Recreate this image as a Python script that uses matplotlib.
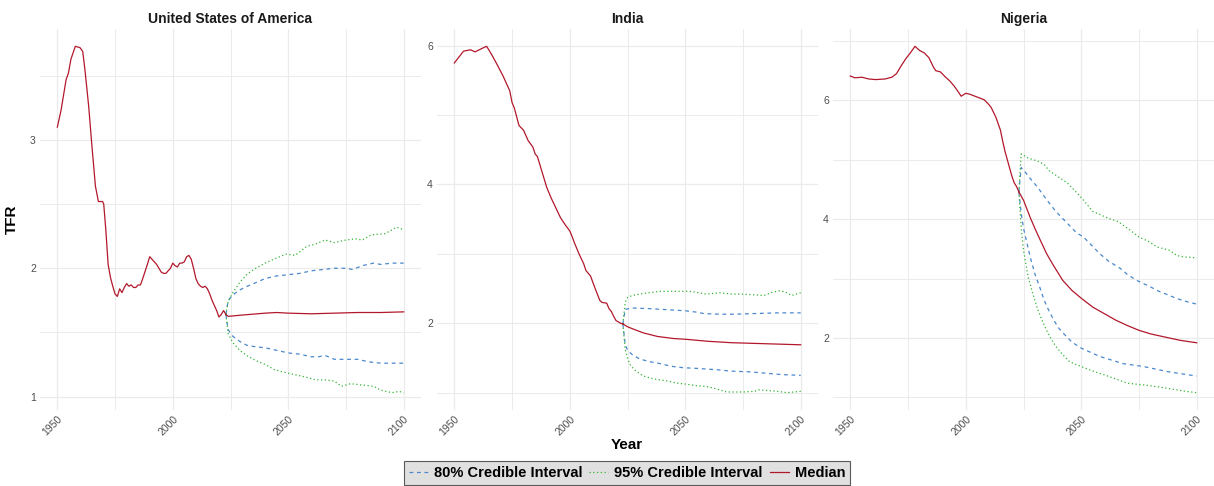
import matplotlib
matplotlib.use("Agg")
import matplotlib.pyplot as plt

plt.rcParams['font.family'] = ['Liberation Sans', 'DejaVu Sans']

# ---- data (TFR) ----
countries = ["United States of America", "India", "Nigeria"]

# United States
usa_hist_years = [1950, 1951.6, 1952.7, 1953.8, 1954.8, 1955.9, 1957.8, 1959.8, 1961, 1962, 1963.6, 1965,
                  1966.5, 1967.8, 1969.6, 1970.1, 1971, 1972, 1973, 1974, 1975, 1976, 1977, 1978, 1979,
                  1980, 1981, 1982, 1983, 1984, 1985, 1986, 1987, 1989, 1990, 1991, 1992, 1993, 1994,
                  1995, 1996, 1997, 1998, 1999, 2000, 2001, 2002, 2003, 2004, 2005, 2006, 2007, 2008,
                  2009, 2010, 2011, 2012, 2013, 2014, 2015, 2016, 2017, 2018, 2019, 2020, 2021, 2022, 2023]
usa_hist = [3.10, 3.23, 3.35, 3.47, 3.52, 3.63, 3.73, 3.72, 3.69, 3.54, 3.26, 2.95,
            2.64, 2.52, 2.52, 2.50, 2.30, 2.03, 1.93, 1.86, 1.80, 1.78, 1.84, 1.81, 1.85,
            1.88, 1.86, 1.87, 1.85, 1.85, 1.87, 1.87, 1.92, 2.03, 2.09, 2.07, 2.05, 2.03, 2.00,
            1.97, 1.96, 1.96, 1.98, 2.00, 2.04, 2.02, 2.01, 2.04, 2.04, 2.05, 2.09, 2.10, 2.07,
            2.00, 1.92, 1.88, 1.86, 1.85, 1.86, 1.84, 1.80, 1.75, 1.71, 1.67, 1.62, 1.64, 1.67, 1.64]
usa_med_years = [2023, 2024, 2030, 2040, 2045, 2050, 2060, 2070, 2080, 2090, 2100]
usa_med = [1.64, 1.625, 1.635, 1.65, 1.655, 1.65, 1.645, 1.65, 1.655, 1.655, 1.66]
usa_u80_years = [2023, 2024, 2026, 2028, 2031, 2035, 2040, 2045, 2050, 2055, 2060, 2065, 2070, 2075,
                 2078, 2082, 2087, 2090, 2095, 2100]
usa_u80 = [1.64, 1.75, 1.79, 1.82, 1.85, 1.88, 1.92, 1.94, 1.95, 1.96, 1.98, 1.99, 2.00, 2.00,
           1.99, 2.02, 2.04, 2.03, 2.04, 2.04]
usa_l80_years = [2023, 2024, 2026, 2029, 2032, 2035, 2040, 2045, 2050, 2055, 2060, 2063, 2066, 2070,
                 2075, 2080, 2085, 2090, 2095, 2100]
usa_l80 = [1.64, 1.52, 1.47, 1.43, 1.40, 1.39, 1.38, 1.36, 1.34, 1.33, 1.31, 1.31, 1.32, 1.29,
           1.29, 1.29, 1.27, 1.26, 1.26, 1.26]
usa_u95_years = [2023, 2024, 2026, 2029, 2032, 2035, 2040, 2045, 2049, 2053, 2058, 2062, 2066, 2070,
                 2075, 2079, 2082, 2086, 2092, 2095, 2097, 2100]
usa_u95 = [1.64, 1.74, 1.81, 1.89, 1.95, 1.99, 2.04, 2.08, 2.11, 2.10, 2.17, 2.19, 2.22, 2.20,
           2.22, 2.23, 2.22, 2.26, 2.27, 2.30, 2.32, 2.30]
usa_l95_years = [2023, 2024, 2026, 2029, 2032, 2036, 2040, 2044, 2048, 2053, 2058, 2062, 2066, 2070,
                 2073, 2077, 2082, 2087, 2090, 2095, 2098, 2100]
usa_l95 = [1.64, 1.49, 1.42, 1.36, 1.32, 1.28, 1.25, 1.21, 1.19, 1.17, 1.15, 1.13, 1.13, 1.12,
           1.08, 1.10, 1.09, 1.08, 1.05, 1.03, 1.04, 1.03]

# India
ind_hist_years = [1950, 1954, 1957, 1959, 1962, 1964, 1966, 1968, 1971, 1974, 1975, 1976, 1978, 1980,
                  1982, 1984, 1985, 1986, 1988, 1990, 1992, 1994, 1996, 1998, 2000, 2001, 2002, 2004,
                  2006, 2007, 2009, 2011, 2013, 2014, 2016, 2017, 2018, 2019, 2020, 2021, 2022, 2023]
ind_hist = [5.75, 5.92, 5.94, 5.91, 5.96, 5.99, 5.88, 5.76, 5.57, 5.35, 5.18, 5.10, 4.85, 4.78,
            4.63, 4.54, 4.44, 4.40, 4.18, 3.96, 3.80, 3.66, 3.52, 3.42, 3.33, 3.25, 3.16, 3.00,
            2.86, 2.76, 2.68, 2.50, 2.33, 2.30, 2.29, 2.21, 2.17, 2.10, 2.04, 2.02, 2.00, 1.99]
ind_med_years = [2023, 2025, 2028, 2032, 2038, 2045, 2050, 2060, 2070, 2080, 2090, 2100]
ind_med = [1.99, 1.95, 1.91, 1.86, 1.81, 1.78, 1.77, 1.74, 1.72, 1.71, 1.70, 1.69]
ind_u80_years = [2023, 2024, 2027, 2035, 2045, 2050, 2055, 2058, 2065, 2071, 2080, 2090, 2100]
ind_u80 = [1.99, 2.20, 2.22, 2.21, 2.19, 2.18, 2.16, 2.14, 2.13, 2.13, 2.14, 2.15, 2.15]
ind_l80_years = [2023, 2024, 2025, 2027, 2030, 2034, 2039, 2044, 2049, 2055, 2064, 2070, 2078, 2085,
                 2092, 2100]
ind_l80 = [1.99, 1.70, 1.61, 1.55, 1.49, 1.45, 1.42, 1.38, 1.36, 1.35, 1.33, 1.31, 1.30, 1.28,
           1.26, 1.25]
ind_u95_years = [2023, 2024, 2025, 2027, 2032, 2039, 2045, 2052, 2056, 2059, 2065, 2070, 2075, 2080,
                 2084, 2088, 2091, 2094, 2096, 2100]
ind_u95 = [1.99, 2.30, 2.37, 2.40, 2.43, 2.46, 2.46, 2.46, 2.44, 2.42, 2.44, 2.42, 2.42, 2.41,
           2.40, 2.45, 2.47, 2.44, 2.40, 2.44]
ind_l95_years = [2023, 2024, 2025, 2026, 2028, 2030, 2032, 2036, 2042, 2046, 2051, 2055, 2059, 2063,
                 2068, 2075, 2080, 2082, 2086, 2090, 2094, 2100]
ind_l95 = [1.99, 1.62, 1.50, 1.41, 1.33, 1.28, 1.24, 1.20, 1.17, 1.14, 1.12, 1.10, 1.09, 1.06,
           1.01, 1.01, 1.02, 1.04, 1.03, 1.02, 1.00, 1.02]

# Nigeria
nga_hist_years = [1950, 1952, 1955, 1958, 1961, 1965, 1968, 1970, 1972, 1974, 1976, 1978, 1980, 1982,
                  1984, 1986, 1987, 1989, 1991, 1993, 1995, 1997, 1998, 2000, 2002, 2004, 2006, 2008,
                  2010, 2011, 2013, 2014, 2015, 2016, 2017, 2018, 2019, 2020, 2021, 2022, 2023]
nga_hist = [6.41, 6.38, 6.39, 6.36, 6.35, 6.36, 6.39, 6.45, 6.58, 6.70, 6.80, 6.91, 6.84, 6.80,
            6.72, 6.56, 6.50, 6.48, 6.40, 6.33, 6.24, 6.13, 6.07, 6.12, 6.10, 6.07, 6.04, 6.01,
            5.93, 5.88, 5.72, 5.61, 5.50, 5.31, 5.14, 5.00, 4.86, 4.72, 4.61, 4.55, 4.46]
nga_med_years = [2023, 2025, 2028, 2030, 2032, 2035, 2038, 2042, 2046, 2050, 2055, 2060, 2065, 2070,
                 2075, 2080, 2087, 2093, 2100]
nga_med = [4.46, 4.32, 4.02, 3.84, 3.67, 3.42, 3.22, 2.97, 2.80, 2.67, 2.52, 2.41, 2.30, 2.21,
           2.13, 2.07, 2.01, 1.96, 1.92]
nga_u80_years = [2023, 2024, 2026, 2028, 2030, 2032, 2035, 2039, 2044, 2048, 2051, 2055, 2058, 2062,
                 2067, 2070, 2074, 2079, 2084, 2088, 2091, 2095, 2100]
nga_u80 = [4.46, 4.87, 4.78, 4.68, 4.59, 4.49, 4.33, 4.13, 3.93, 3.77, 3.70, 3.54, 3.42, 3.29,
           3.17, 3.07, 2.97, 2.88, 2.78, 2.72, 2.67, 2.62, 2.57]
nga_l80_years = [2023, 2024, 2025, 2026, 2028, 2030, 2032, 2034, 2036, 2038, 2040, 2042, 2046, 2050,
                 2058, 2068, 2077, 2088, 2100]
nga_l80 = [4.46, 4.10, 3.85, 3.68, 3.35, 3.07, 2.86, 2.63, 2.46, 2.31, 2.18, 2.09, 1.93, 1.83,
           1.69, 1.57, 1.52, 1.43, 1.36]
nga_u95_years = [2023, 2024, 2027, 2031, 2034, 2036, 2039, 2044, 2048, 2051, 2055, 2058, 2062, 2066,
                 2071, 2075, 2079, 2083, 2088, 2091, 2093, 2100]
nga_u95 = [4.46, 5.10, 5.03, 4.98, 4.92, 4.82, 4.74, 4.61, 4.45, 4.32, 4.13, 4.08, 4.01, 3.96,
           3.82, 3.70, 3.63, 3.53, 3.48, 3.40, 3.37, 3.35]
nga_l95_years = [2023, 2024, 2025, 2027, 2029, 2031, 2033, 2035, 2037, 2039, 2042, 2045, 2048, 2052,
                 2056, 2060, 2065, 2070, 2077, 2083, 2088, 2094, 2100]
nga_l95 = [4.46, 3.85, 3.48, 3.03, 2.75, 2.50, 2.30, 2.13, 1.98, 1.86, 1.72, 1.60, 1.55, 1.49,
           1.43, 1.38, 1.31, 1.24, 1.21, 1.18, 1.15, 1.11, 1.08]

year_ticks = [1950, 2000, 2050, 2100]
year_minor = [1975, 2025, 2075]
y_ticks = [[1, 2, 3], [2, 4, 6], [2, 4, 6]]
y_minor = [[1.5, 2.5, 3.5], [1, 3, 5], [1, 3, 5, 7]]

MED_COL = '#B2182B'
C80_COL = '#4A88CC'
C95_COL = '#33B533'
GRID = '#EBEBEB'

panels = [
    (usa_hist_years, usa_hist, usa_med_years, usa_med, usa_u80_years, usa_u80, usa_l80_years, usa_l80,
     usa_u95_years, usa_u95, usa_l95_years, usa_l95),
    (ind_hist_years, ind_hist, ind_med_years, ind_med, ind_u80_years, ind_u80, ind_l80_years, ind_l80,
     ind_u95_years, ind_u95, ind_l95_years, ind_l95),
    (nga_hist_years, nga_hist, nga_med_years, nga_med, nga_u80_years, nga_u80, nga_l80_years, nga_l80,
     nga_u95_years, nga_u95, nga_l95_years, nga_l95),
]

fig = plt.figure(figsize=(12.14, 4.86), dpi=100)
W = 1214.0
H = 486.0
lefts = [40, 437, 833]
ax_w = 381 / W
ax_b = 1 - 410 / H
ax_h = (410 - 29) / H

lw = 0.9
for i, (name, d) in enumerate(zip(countries, panels)):
    hy, hv, my, mv, u8y, u8v, l8y, l8v, u9y, u9v, l9y, l9v = d
    ax = fig.add_axes([lefts[i] / W, ax_b, ax_w, ax_h])

    ax.plot(u8y, u8v, color=C80_COL, lw=lw, ls=(0, (3, 3)), label='80% Credible Interval')
    ax.plot(l8y, l8v, color=C80_COL, lw=lw, ls=(0, (3, 3)))
    ax.plot(u9y, u9v, color=C95_COL, lw=lw, ls=(0, (1, 2)), label='95% Credible Interval')
    ax.plot(l9y, l9v, color=C95_COL, lw=lw, ls=(0, (1, 2)))
    ax.plot(hy, hv, color=MED_COL, lw=lw, label='Median')
    ax.plot(my, mv, color=MED_COL, lw=lw)

    ax.set_xticks(year_ticks)
    ax.set_xticks(year_minor, minor=True)
    ax.set_yticks(y_ticks[i])
    ax.set_yticks(y_minor[i], minor=True)
    ax.grid(True, which='major', color=GRID, lw=0.9)
    ax.grid(True, which='minor', color=GRID, lw=0.7)
    ax.set_axisbelow(True)
    for s in ax.spines.values():
        s.set_visible(False)
    ax.tick_params(which='both', length=0, labelsize=7.5, labelcolor='#4D4D4D', pad=3)
    for lab in ax.get_xticklabels():
        lab.set_rotation(45)
        lab.set_ha('right')
        lab.set_va('top')
        lab.set_rotation_mode('anchor')
    ax.set_title(name, fontsize=10, fontweight='bold', color='#1A1A1A', pad=4)

    if i == 0:
        ax.set_ylabel('TFR', fontsize=11, fontweight='bold', labelpad=8)
        handles, labels = ax.get_legend_handles_labels()

fig.text((40 + W) / 2 / W, 1 - 445 / H, 'Year', fontsize=11, fontweight='bold', ha='center', va='center')

leg = fig.legend(handles, labels, loc='upper center', bbox_to_anchor=((40 + W) / 2 / W, 1 - 461 / H),
                 ncol=3, prop={'weight': 'bold', 'size': 10.5}, frameon=True, fancybox=False,
                 handlelength=1.3, handletextpad=0.4, columnspacing=0.5, borderpad=0.35,
                 borderaxespad=0)
leg.get_frame().set_facecolor('#D9D9D9')
leg.get_frame().set_edgecolor('#333333')
leg.get_frame().set_linewidth(0.8)

fig.savefig('out.png', dpi=100)
